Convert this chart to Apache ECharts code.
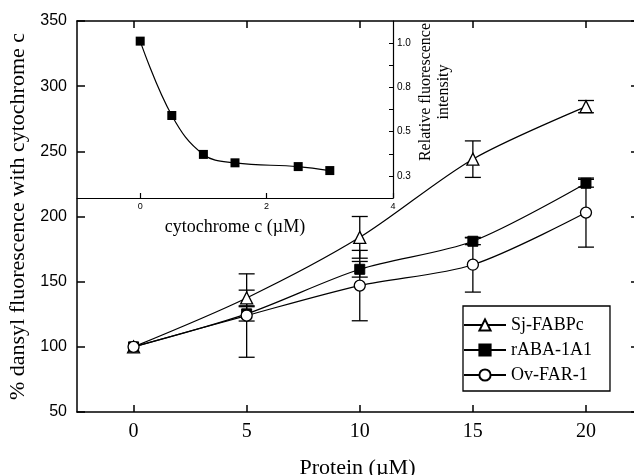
<!DOCTYPE html>
<html><head><meta charset="utf-8">
<script src="https://cdn.jsdelivr.net/npm/echarts@6/dist/echarts.min.js"></script>
<style>html,body{margin:0;padding:0;background:#fff}#c{width:634px;height:475px}</style>
</head><body><div id="c"></div>
<script>
// ---- data ----
const proteinX = [0, 5, 10, 15, 20];
const sjFABPc = [100, 137.5, 184, 244, 284.3];
const sjErr = [0, 6, 16, 14, 4.7];
const rABA = [100, 125.3, 159.5, 181, 225.5];
const rABAErr = [0, 5.5, 6, 2.6, 3];
const ovFAR = [100, 124, 147, 163, 203];
const ovErr = [0, 32, 27, 21, 26.5];
const cytoX = [0, 0.5, 1, 1.5, 2.5, 3];
const relFluor = [1.009, 0.673, 0.497, 0.459, 0.442, 0.424];
const mainXTicks = [0, 5, 10, 15, 20];
const insetXTicks = [0, 2, 4];
const insetYTicks = [0.4, 0.5, 0.6, 0.7, 0.8, 0.9, 1.0];
const insetYTickValues = [0.4, 0.6, 0.8, 1.0];
const insetYTickLabels = ['0.3', '0.5', '0.8', '1.0'];
const seriesNames = ['Sj-FABPc', 'rABA-1A1', 'Ov-FAR-1'];

const SERIF = 'Liberation Serif';
const SANS = 'Liberation Sans';
const BLK = '#000';

function pairs(xs, ys) { return xs.map((x, i) => [x, ys[i]]); }
function errData(xs, ys, es) { return xs.map((x, i) => [x, ys[i] - es[i], ys[i] + es[i]]); }

function errRender(params, api) {
  const x = api.value(0), lo = api.value(1), hi = api.value(2);
  if (hi - lo <= 0) return null;
  const p1 = api.coord([x, hi]), p2 = api.coord([x, lo]);
  const w = 8;
  const st = { stroke: BLK, lineWidth: 1.3 };
  return { type: 'group', children: [
    { type: 'line', shape: { x1: p1[0], y1: p1[1], x2: p2[0], y2: p2[1] }, style: st },
    { type: 'line', shape: { x1: p1[0] - w, y1: p1[1], x2: p1[0] + w, y2: p1[1] }, style: st },
    { type: 'line', shape: { x1: p2[0] - w, y1: p2[1], x2: p2[0] + w, y2: p2[1] }, style: st }
  ]};
}

const axLine = { show: true, onZero: false, lineStyle: { color: BLK, width: 1.5 } };
const inLine = { show: true, onZero: false, lineStyle: { color: BLK, width: 1.2 } };

const chart = echarts.init(document.getElementById('c'), null, { renderer: 'canvas' });
chart.setOption({
  animation: false,
  backgroundColor: '#fff',
  grid: [
    { left: 77, top: 21, width: 561, height: 391, containLabel: false, outerBoundsMode: 'none' },
    { left: 77, top: 21, width: 316, height: 177, containLabel: false, outerBoundsMode: 'none',
      show: true, backgroundColor: '#fff', borderWidth: 0, z: 1 }
  ],
  xAxis: [
    { gridIndex: 0, type: 'value', min: -2.5, max: 22.3, position: 'bottom', z: 10,
      axisLine: axLine, splitLine: { show: false },
      axisTick: { inside: true, length: 7, customValues: mainXTicks, lineStyle: { color: BLK, width: 1.5 } },
      axisLabel: { customValues: mainXTicks, fontFamily: SERIF, fontSize: 20, color: BLK, margin: 10 },
      name: 'Protein (\u00b5M)', nameLocation: 'middle', nameGap: 45,
      nameTextStyle: { fontFamily: SERIF, fontSize: 22, color: BLK } },
    { gridIndex: 0, type: 'value', min: -2.5, max: 22.3, position: 'top', z: 10,
      axisLine: axLine, splitLine: { show: false },
      axisTick: { inside: true, length: 7, customValues: mainXTicks, lineStyle: { color: BLK, width: 1.5 } },
      axisLabel: { show: false } },
    { gridIndex: 1, type: 'value', min: -1, max: 4, position: 'bottom', z: 10,
      axisLine: inLine, splitLine: { show: false },
      axisTick: { inside: true, length: 5, customValues: insetXTicks, lineStyle: { color: BLK, width: 1.2 } },
      axisLabel: { customValues: insetXTicks, fontFamily: SANS, fontSize: 9, color: BLK, margin: 4 },
      name: 'cytochrome c (\u00b5M)', nameLocation: 'middle', nameGap: 20,
      nameTextStyle: { fontFamily: SERIF, fontSize: 18, color: BLK } }
  ],
  yAxis: [
    { gridIndex: 0, type: 'value', min: 50, max: 350, interval: 50, position: 'left', z: 10,
      axisLine: axLine, splitLine: { show: false },
      axisTick: { inside: true, length: 8, lineStyle: { color: BLK, width: 1.5 } },
      axisLabel: { fontFamily: SANS, fontSize: 16, color: BLK, margin: 10 },
      name: '% dansyl fluorescence with cytochrome c', nameLocation: 'middle', nameGap: 36,
      nameTextStyle: { fontFamily: SERIF, fontSize: 22, color: BLK } },
    { gridIndex: 0, type: 'value', min: 50, max: 350, interval: 50, position: 'right', z: 10,
      axisLine: axLine, splitLine: { show: false },
      axisTick: { inside: true, length: 7, lineStyle: { color: BLK, width: 1.5 } },
      axisLabel: { show: false } },
    { gridIndex: 1, type: 'value', min: 0.3, max: 1.1, position: 'right', z: 10,
      axisLine: inLine, splitLine: { show: false },
      axisTick: { inside: true, length: 4, customValues: insetYTicks, lineStyle: { color: BLK, width: 1 } },
      axisLabel: { customValues: insetYTickValues, fontFamily: SANS, fontSize: 10, color: BLK, margin: 4,
        formatter: v => insetYTickLabels[insetYTickValues.findIndex(t => Math.abs(t - v) < 1e-6)] || '' } }
  ],
  legend: {
    orient: 'vertical', left: 463, top: 306,
    data: seriesNames,
    borderColor: BLK, borderWidth: 1.3, borderRadius: 0, backgroundColor: '#fff',
    padding: [10, 18, 7, 0], itemGap: 7, itemWidth: 42, itemHeight: 14,
    textStyle: { fontFamily: SERIF, fontSize: 18, color: BLK },
    selectedMode: false
  },
  graphic: [
    { type: 'text', x: 435, y: 92, rotation: Math.PI / 2, z: 20,
      style: { text: 'Relative fluorescence\nintensity', fontFamily: SERIF, fontSize: 16, lineHeight: 18,
        fill: BLK, align: 'center', verticalAlign: 'middle' } }
  ],
  series: [
    { type: 'custom', xAxisIndex: 0, yAxisIndex: 0, renderItem: errRender, encode: { x: 0, y: [1, 2] }, data: errData(proteinX, sjFABPc, sjErr), z: 1, silent: true },
    { type: 'custom', xAxisIndex: 0, yAxisIndex: 0, renderItem: errRender, encode: { x: 0, y: [1, 2] }, data: errData(proteinX, rABA, rABAErr), z: 1, silent: true },
    { type: 'custom', xAxisIndex: 0, yAxisIndex: 0, renderItem: errRender, encode: { x: 0, y: [1, 2] }, data: errData(proteinX, ovFAR, ovErr), z: 1, silent: true },
    { name: seriesNames[0], type: 'line', xAxisIndex: 0, yAxisIndex: 0, data: pairs(proteinX, sjFABPc), smooth: 0.3,
      symbol: 'triangle', symbolSize: 12, itemStyle: { color: '#fff', borderColor: BLK, borderWidth: 1.3 },
      lineStyle: { color: BLK, width: 1.2 }, z: 3 },
    { name: seriesNames[1], type: 'line', xAxisIndex: 0, yAxisIndex: 0, data: pairs(proteinX, rABA), smooth: 0.3,
      symbol: 'rect', symbolSize: 10, itemStyle: { color: BLK, borderColor: BLK, borderWidth: 1 },
      lineStyle: { color: BLK, width: 1.2 }, z: 3 },
    { name: seriesNames[2], type: 'line', xAxisIndex: 0, yAxisIndex: 0, data: pairs(proteinX, ovFAR), smooth: 0.3,
      symbol: 'circle', symbolSize: 11, itemStyle: { color: '#fff', borderColor: BLK, borderWidth: 1.3 },
      lineStyle: { color: BLK, width: 1.2 }, z: 3 },
    { type: 'line', xAxisIndex: 2, yAxisIndex: 2, data: pairs(cytoX, relFluor), smooth: 0.4,
      symbol: 'rect', symbolSize: 9, itemStyle: { color: BLK }, lineStyle: { color: BLK, width: 1.2 }, z: 7 }
  ]
});
</script>
</body></html>
